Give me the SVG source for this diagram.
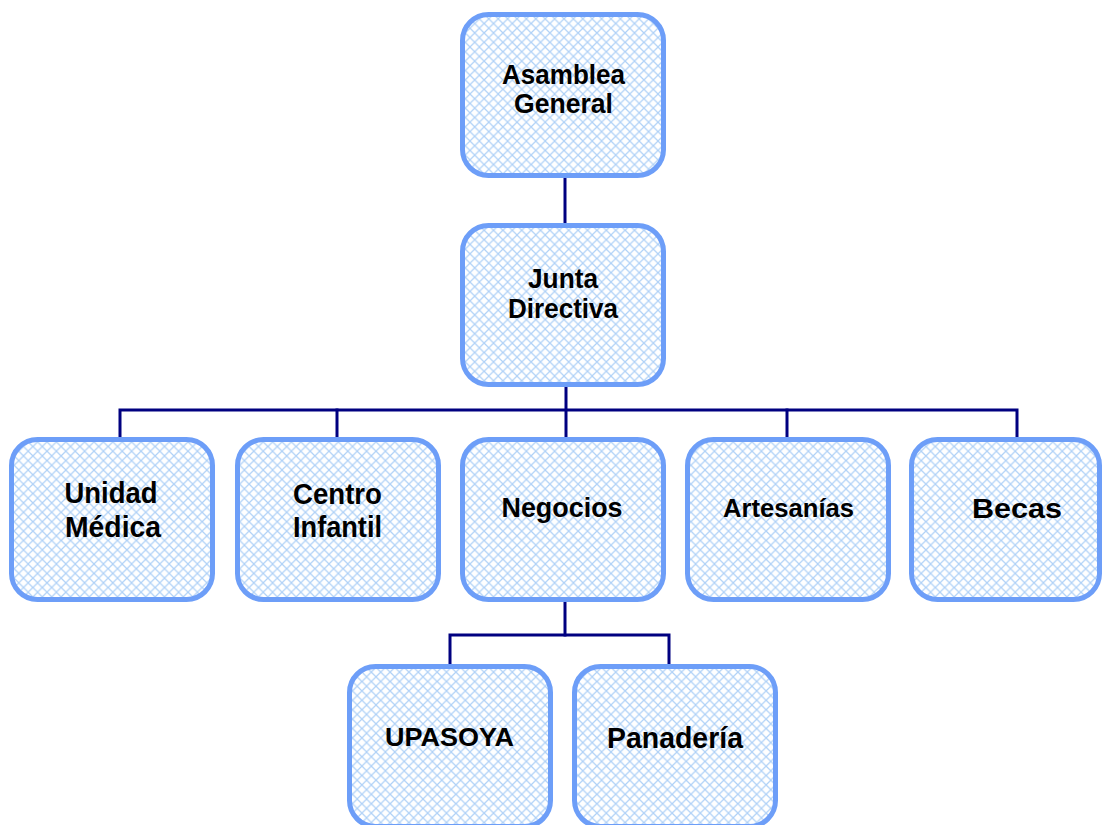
<svg xmlns="http://www.w3.org/2000/svg" width="1102" height="825" viewBox="0 0 1102 825">
  <defs>
    <!-- light blue diagonal crosshatch fill -->
    <pattern id="hatch" width="9.4" height="9.4" patternUnits="userSpaceOnUse">
      <rect width="9.4" height="9.4" fill="#ffffff"/>
      <path d="M-1,-1 L10.4,10.4 M10.4,-1 L-1,10.4" stroke="#afd1f7" stroke-width="1.2" fill="none"/>
    </pattern>
  </defs>
  <style>
    .box { fill: url(#hatch); stroke: #6d9ef8; stroke-width: 5; }
    .lbl { font-family: "Liberation Sans", Arial, Helvetica, sans-serif; font-weight: bold; fill: #000000; text-anchor: middle; }
    .conn { stroke: #000080; stroke-width: 3; fill: none; stroke-linecap: square; }
  </style>
  <rect width="1102" height="825" fill="#ffffff"/>

  <g id="connectors">
    <path class="conn" d="M565,178 V222"/>
    <path class="conn" d="M566,387 V436"/>
    <path class="conn" d="M120,436 V410 H1017 V436"/>
    <path class="conn" d="M337,410 V436"/>
    <path class="conn" d="M787,410 V436"/>
    <path class="conn" d="M565,603 V635"/>
    <path class="conn" d="M450,663 V635 H669 V663"/>
  </g>

  <g id="asamblea-general">
    <rect class="box" x="462.5" y="14.5" width="201" height="161" rx="26"/>
    <text class="lbl" font-size="28.5" x="563.5" y="84" textLength="123" lengthAdjust="spacingAndGlyphs">Asamblea</text>
    <text class="lbl" font-size="28.5" x="563.5" y="113" textLength="99" lengthAdjust="spacingAndGlyphs">General</text>
  </g>

  <g id="junta-directiva">
    <rect class="box" x="462.5" y="225.5" width="201" height="159" rx="26"/>
    <text class="lbl" font-size="28" x="563" y="288" textLength="70" lengthAdjust="spacingAndGlyphs">Junta</text>
    <text class="lbl" font-size="28" x="563" y="318" textLength="110" lengthAdjust="spacingAndGlyphs">Directiva</text>
  </g>

  <g id="unidad-medica">
    <rect class="box" x="11.5" y="439.5" width="201" height="160" rx="26"/>
    <text class="lbl" font-size="29.5" x="111" y="503" textLength="93" lengthAdjust="spacingAndGlyphs">Unidad</text>
    <text class="lbl" font-size="29.5" x="113" y="537" textLength="96" lengthAdjust="spacingAndGlyphs">Médica</text>
  </g>

  <g id="centro-infantil">
    <rect class="box" x="237.5" y="439.5" width="201" height="160" rx="26"/>
    <text class="lbl" font-size="29" x="337.5" y="504" textLength="89" lengthAdjust="spacingAndGlyphs">Centro</text>
    <text class="lbl" font-size="29" x="337.5" y="537" textLength="89" lengthAdjust="spacingAndGlyphs">Infantil</text>
  </g>

  <g id="negocios">
    <rect class="box" x="462.5" y="439.5" width="201" height="160" rx="26"/>
    <text class="lbl" font-size="28.5" x="562" y="517" textLength="121" lengthAdjust="spacingAndGlyphs">Negocios</text>
  </g>

  <g id="artesanias">
    <rect class="box" x="687.5" y="439.5" width="201" height="160" rx="26"/>
    <text class="lbl" font-size="25.5" x="788.5" y="517" textLength="131" lengthAdjust="spacingAndGlyphs">Artesanías</text>
  </g>

  <g id="becas">
    <rect class="box" x="911.5" y="439.5" width="188" height="160" rx="26"/>
    <text class="lbl" font-size="27" x="1017" y="518" textLength="90" lengthAdjust="spacingAndGlyphs">Becas</text>
  </g>

  <g id="upasoya">
    <rect class="box" x="349.5" y="666.5" width="201" height="160" rx="26"/>
    <text class="lbl" font-size="25.5" x="449.5" y="746" textLength="129" lengthAdjust="spacingAndGlyphs">UPASOYA</text>
  </g>

  <g id="panaderia">
    <rect class="box" x="574.5" y="666.5" width="201" height="160" rx="26"/>
    <text class="lbl" font-size="29" x="675" y="748" textLength="136" lengthAdjust="spacingAndGlyphs">Panadería</text>
  </g>
</svg>
